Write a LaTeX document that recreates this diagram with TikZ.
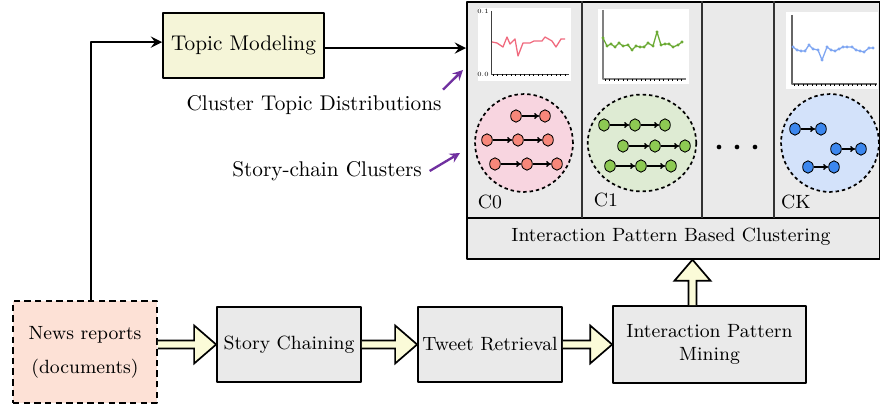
\documentclass[tikz,border=0pt]{standalone}
\usetikzlibrary{calc,positioning,shapes.geometric,arrows.meta}
\definecolor{topicfill}{HTML}{F5F5D8}
\definecolor{newsfill}{HTML}{FDE1D6}
\definecolor{boxgray}{HTML}{EAEAEA}
\definecolor{fatfill}{HTML}{FBFBD8}
\definecolor{violetarrow}{HTML}{7030A0}
\definecolor{czerobg}{HTML}{F8D5E0}
\definecolor{czeronode}{HTML}{F7877A}
\definecolor{czeroline}{HTML}{F06A7E}
\definecolor{conebg}{HTML}{DEEBD3}
\definecolor{conenode}{HTML}{8DC953}
\definecolor{coneline}{HTML}{6BAA34}
\definecolor{ckbg}{HTML}{D3E2FA}
\definecolor{cknode}{HTML}{3C87EE}
\definecolor{ckline}{HTML}{7FA6F2}
% fat block arrow, horizontal and upward
\newcommand{\fatarrow}[2]{%
  \draw[fatarrow] ($(#1)+(0,4)$) -- ($(#2)+(-22,4)$) -- ($(#2)+(-22,19)$) -- (#2)
    -- ($(#2)+(-22,-19)$) -- ($(#2)+(-22,-4)$) -- ($(#1)+(0,-4)$);}
\newcommand{\fatarrowup}[2]{%
  \draw[fatarrow] ($(#1)+(-4,0)$) -- ($(#2)+(-4,21)$) -- ($(#2)+(-18,21)$) -- (#2)
    -- ($(#2)+(18,21)$) -- ($(#2)+(4,21)$) -- ($(#1)+(4,0)$);}
\begin{document}
\begin{tikzpicture}[x=0.47pt,y=-0.47pt,line join=round,>=stealth,thick]
	\tikzset{box/.style={draw, thick, fill=boxgray, font=\small, align=center, inner sep=2pt},
		fatarrow/.style={draw, thick, fill=fatfill, line join=miter},
		chainnode/.style={ellipse, draw, thin, minimum width=5pt, minimum height=5.8pt, inner sep=0pt},
		chainarrow/.style={-{To[length=2.4pt,width=2.8pt]}, semithick},
		cluster/.style={circle, draw, thick, dashed, dash pattern=on 1.6pt off 1.4pt},
		tiny/.style={font=\fontsize{3}{3}\selectfont, inner sep=0pt}}
	\useasboundingbox (0,0) rectangle (880,409);
	% panel with the clusters
	\node[draw, thick, fill=boxgray, minimum width=194.1pt, minimum height=120.8pt, anchor=north west, inner sep=0pt] (clus) at (466,1) {};
	\draw[thick] (clus.west |- 0,218) -- (clus.east |- 0,218);
	\node[font=\small] (ipbc) at (671,237) {Interaction Pattern Based Clustering};
	\foreach \x in {582,702,774}
	\draw[semithick, black!80] (\x,1) -- (\x,218);
	% topic distribution plots
	\fill[white] (478,8) rectangle (571,81);
	\draw[thin, black!75] (491,11) -- (491,74) -- (569,74);
	\foreach \x in {493,497.5,...,568} \draw[very thin] (\x,74) -- (\x,76);
	\node[tiny] (ctop) at (483,11) {0.1};
	\node[tiny] (cbot) at (483,74) {0.0};
	\draw[czeroline, semithick] plot coordinates {(492,42) (497,43) (503,47) (507,37) (510,44) (515,39) (518,56) (523,43) (526,43) (530,43) (534,41) (538,41) (542,41) (545,37) (552,41) (556,47) (561,39) (565,39)};
	\fill[white] (598,9) rectangle (689,84);
	\draw[semithick, black!50] (603,10) -- (603,79) -- (686,79);
	\foreach \x in {605,609.5,...,685} \draw[very thin] (\x,79) -- (\x,81);
	\draw[coneline, semithick, mark=*, mark size=0.4pt] plot coordinates {(603,38) (607,46) (611,44) (615,47) (619,43) (623,46) (628,45) (632,50) (636,46) (640,47) (644,47) (648,43) (653,46) (657,32) (661,45) (665,44) (669,44) (673,47) (678,45) (682,42)};
	\fill[white] (786,12) rectangle (878,89);
	\draw[semithick, black!60] (792,15) -- (792,84) -- (877,84);
	\foreach \x in {794,798.5,...,876} \draw[very thin] (\x,84) -- (\x,86);
	\draw[ckline, semithick, mark=*, mark size=0.4pt] plot coordinates {(793,47) (797,50) (801,51) (805,51) (809,45) (813,49) (818,50) (822,60) (827,47) (831,50) (835,51) (839,49) (843,47) (847,47) (852,47) (856,50) (860,51) (864,52) (869,48) (873,48)};
	% story-chain clusters
	\node[cluster, fill=czerobg, minimum size=46pt] (czero) at (524,143) {};
	\node[cluster, fill=conebg, ellipse, minimum width=51pt, minimum height=45.5pt] (cone) at (642,143) {};
	\node[cluster, fill=ckbg, minimum size=46pt] (ck) at (830,143) {};
	\foreach \n/\x/\y in {1/516/116,2/545/116,3/487/140,4/518/140,5/548/140,6/495/164,7/527/164,8/557/164}
	\node[chainnode, fill=czeronode] (a\n) at (\x,\y) {};
	\foreach \s/\t in {1/2,3/4,4/5,6/7,7/8}
	\draw[chainarrow] (a\s) -- (a\t);
	\foreach \n/\x/\y in {1/604/125,2/635/125,3/665/125,4/623/146,5/655/146,6/685/146,7/610/166,8/641/166,9/671/166}
	\node[chainnode, fill=conenode] (b\n) at (\x,\y) {};
	\foreach \s/\t in {1/2,2/3,4/5,5/6,7/8,8/9}
	\draw[chainarrow] (b\s) -- (b\t);
	\foreach \n/\x/\y in {1/795/129,2/821/129,3/836/149,4/861/149,5/808/167,6/834/167}
	\node[chainnode, fill=cknode] (k\n) at (\x,\y) {};
	\foreach \s/\t in {1/2,3/4,5/6}
	\draw[chainarrow] (k\s) -- (k\t);
	\foreach \x in {719,737,755}
	\fill (\x,147) circle (1.1pt);
	\node[font=\small] (lzero) at (490,202) {C0};
	\node[font=\small] (lone) at (606,200) {C1};
	\node[font=\small] (lk) at (796,202) {CK};
	% left part
	\node[draw, thick, fill=topicfill, minimum width=75.7pt, minimum height=30.6pt, inner sep=2pt] (topic) at (243.5,45.5) {Topic Modeling};
	\node[draw, thick, fill=newsfill, densely dashed, minimum width=67.7pt, minimum height=47.9pt, font=\small, align=center] (news) at (85,352) {News reports\\[5pt](documents)};
	\node[box, minimum width=67.7pt, minimum height=35.3pt] (story) at (289,344.5) {Story Chaining};
	\node[box, minimum width=67.7pt, minimum height=35.3pt] (tweet) at (490,344.5) {Tweet Retrieval};
	\node[box, minimum width=90.7pt, minimum height=36.2pt] (ipm) at (709.5,344.5) {Interaction Pattern\\Mining};
	\node (ctd) at (314,105) {Cluster Topic Distributions};
	\node (scc) at (327,171) {Story-chain Clusters};
	\coordinate (ctdtip) at (463,70);
	\coordinate (scctip) at (460,153);
	\draw[->, line width=1.3pt] ([xshift=2.8pt]news.north) |- ([yshift=1.6pt]topic.west);
	\draw[->, line width=1.3pt] ([yshift=-1.2pt]topic.east) -- ([yshift=-1.2pt]topic.east -| clus.west);
	\draw[->, violetarrow, line width=1.1pt] ([xshift=-3pt,yshift=-1pt]ctd.north east) -- (ctdtip);
	\draw[->, violetarrow, line width=1.1pt] (scc.east) -- (scctip);
	\fatarrow{news.east |- story.west}{story.west}
	\fatarrow{story.east}{tweet.west}
	\fatarrow{tweet.east}{ipm.west}
	\path (ipm.north) ++(-17,0) coordinate (upfoot);
	\fatarrowup{upfoot}{upfoot |- clus.south}
\end{tikzpicture}
\end{document}
